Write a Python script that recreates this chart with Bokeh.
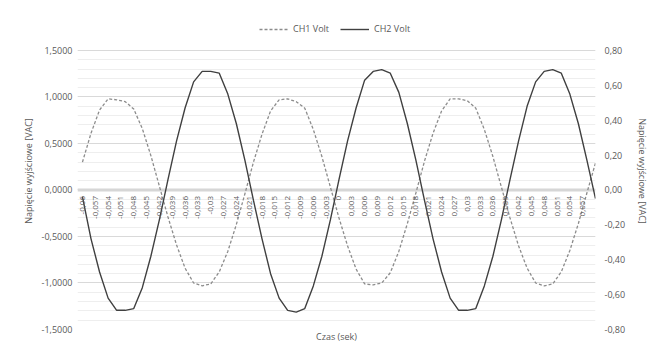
import math
from bokeh.plotting import figure
from bokeh.models import (Range1d, LinearAxis, FixedTicker, Span, Legend, LegendItem,
                          LabelSet, ColumnDataSource)
from bokeh.core.properties import value
from bokeh.embed import file_html
from bokeh.resources import INLINE

# ---- data ----
time_s = [-0.060, -0.058, -0.056, -0.054, -0.052, -0.050, -0.048, -0.046, -0.044, -0.042,
          -0.040, -0.038, -0.036, -0.034, -0.032, -0.030, -0.028, -0.026, -0.024, -0.022,
          -0.020, -0.018, -0.016, -0.014, -0.012, -0.010, -0.008, -0.006, -0.004, -0.002,
          0.000, 0.002, 0.004, 0.006, 0.008, 0.010, 0.012, 0.014, 0.016, 0.018,
          0.020, 0.022, 0.024, 0.026, 0.028, 0.030, 0.032, 0.034, 0.036, 0.038,
          0.040, 0.042, 0.044, 0.046, 0.048, 0.050, 0.052, 0.054, 0.056, 0.058, 0.060]

ch1_volt = [0.30, 0.61, 0.86, 0.98, 0.97, 0.95, 0.87, 0.66, 0.37, 0.04,
            -0.29, -0.59, -0.84, -1.00, -1.03, -1.01, -0.88, -0.66, -0.37, -0.04,
            0.30, 0.60, 0.85, 0.97, 0.98, 0.95, 0.88, 0.65, 0.36, 0.03,
            -0.30, -0.60, -0.85, -1.01, -1.02, -1.00, -0.89, -0.66, -0.36, -0.03,
            0.31, 0.61, 0.85, 0.98, 0.98, 0.96, 0.88, 0.65, 0.36, 0.03,
            -0.30, -0.60, -0.84, -1.00, -1.03, -1.01, -0.88, -0.65, -0.36, -0.03, 0.29]

ch2_volt = [-0.04, -0.28, -0.47, -0.62, -0.69, -0.69, -0.68, -0.56, -0.38, -0.17,
            0.06, 0.28, 0.47, 0.62, 0.68, 0.68, 0.67, 0.55, 0.38, 0.17,
            -0.06, -0.28, -0.48, -0.62, -0.69, -0.70, -0.68, -0.55, -0.38, -0.17,
            0.06, 0.28, 0.47, 0.63, 0.68, 0.69, 0.67, 0.56, 0.38, 0.17,
            -0.06, -0.28, -0.47, -0.62, -0.69, -0.69, -0.68, -0.55, -0.38, -0.17,
            0.06, 0.28, 0.48, 0.62, 0.68, 0.69, 0.67, 0.55, 0.38, 0.17, -0.05]

x_tick_values = [-0.060, -0.057, -0.054, -0.051, -0.048, -0.045, -0.042, -0.039, -0.036, -0.033,
                 -0.030, -0.027, -0.024, -0.021, -0.018, -0.015, -0.012, -0.009, -0.006, -0.003,
                 0.000, 0.003, 0.006, 0.009, 0.012, 0.015, 0.018, 0.021, 0.024, 0.027,
                 0.030, 0.033, 0.036, 0.039, 0.042, 0.045, 0.048, 0.051, 0.054, 0.057]
x_tick_labels = ["-0,06", "-0,057", "-0,054", "-0,051", "-0,048", "-0,045", "-0,042", "-0,039", "-0,036", "-0,033",
                 "-0,03", "-0,027", "-0,024", "-0,021", "-0,018", "-0,015", "-0,012", "-0,009", "-0,006", "-0,003",
                 "0", "0,003", "0,006", "0,009", "0,012", "0,015", "0,018", "0,021", "0,024", "0,027",
                 "0,03", "0,033", "0,036", "0,039", "0,042", "0,045", "0,048", "0,051", "0,054", "0,057"]

left_ticks = [-1.5, -1.0, -0.5, 0.0, 0.5, 1.0, 1.5]
left_tick_labels = ["-1,5000", "-1,0000", "-0,5000", "0,0000", "0,5000", "1,0000", "1,5000"]
left_minor_ticks = [-1.5, -1.4, -1.3, -1.2, -1.1, -1.0, -0.9, -0.8, -0.7, -0.6, -0.5, -0.4, -0.3, -0.2, -0.1,
                    0.0, 0.1, 0.2, 0.3, 0.4, 0.5, 0.6, 0.7, 0.8, 0.9, 1.0, 1.1, 1.2, 1.3, 1.4, 1.5]
right_ticks = [-0.8, -0.6, -0.4, -0.2, 0.0, 0.2, 0.4, 0.6, 0.8]
right_tick_labels = ["-0,80", "-0,60", "-0,40", "-0,20", "0,00", "0,20", "0,40", "0,60", "0,80"]

FONT = "Open Sans"
TXT = "#595959"

# plot frame extends slightly left of the first category (room for its label) and
# above the top gridline to hold the legend (same scales as the axes)
p = figure(width=652, height=352, output_backend="svg", toolbar_location=None,
           x_range=Range1d(-0.06116, 0.06), y_range=Range1d(-1.5, 1.9086),
           min_border_left=77, min_border_right=53, min_border_top=12, min_border_bottom=23)
p.extra_y_ranges = {"right": Range1d(-0.8, 1.0179)}
p.outline_line_color = None
p.background_fill_color = "white"
p.border_fill_color = "white"

p.xgrid.grid_line_color = None
p.ygrid.ticker = FixedTicker(ticks=left_ticks, minor_ticks=left_minor_ticks)
p.ygrid.grid_line_color = "#d9d9d9"
p.ygrid.minor_grid_line_color = "#eeeeee"

# left axis
ya = p.yaxis[0]
ya.ticker = FixedTicker(ticks=left_ticks, minor_ticks=left_minor_ticks)
ya.major_label_overrides = dict(zip(left_ticks, left_tick_labels))
ya.axis_label = "Napięcie wyjściowe [VAC]"

ra = LinearAxis(y_range_name="right", ticker=FixedTicker(ticks=right_ticks),
                major_label_overrides=dict(zip(right_ticks, right_tick_labels)),
                axis_label="Napięcie wyjściowe [VAC]")
p.add_layout(ra, "right")

for ax in [ya, ra]:
    ax.axis_line_color = None
    ax.major_tick_line_color = None
    ax.minor_tick_line_color = None
    ax.major_tick_out = 0
    ax.major_tick_in = 0
    ax.minor_tick_out = 0
    ax.major_label_text_font = FONT
    ax.major_label_text_font_size = "9px"
    ax.major_label_text_color = TXT
    ax.axis_label_text_font = FONT
    ax.axis_label_text_font_size = "9px"
    ax.axis_label_text_font_style = "normal"
    ax.axis_label_text_color = TXT
ya.major_label_standoff = 5
ya.axis_label_standoff = 4
ra.major_label_standoff = 9
ra.axis_label_standoff = 8

xa = p.xaxis[0]
xa.axis_line_color = None
xa.major_tick_line_color = None
xa.minor_tick_line_color = None
xa.major_tick_out = 0
xa.minor_tick_out = 0
xa.major_label_text_color = None
xa.major_label_text_font_size = "1px"
xa.major_label_standoff = 0
xa.axis_label = "Czas (sek)"
xa.axis_label_text_font = FONT
xa.axis_label_text_font_size = "9px"
xa.axis_label_text_font_style = "normal"
xa.axis_label_text_color = TXT
xa.axis_label_standoff = 0

# category axis band at zero
zero_line = Span(location=0, dimension="width", line_color="#d6d6d6", line_width=3, level="underlay")
p.add_layout(zero_line)

r1 = p.line(time_s, ch1_volt, line_color="#8c8c8c", line_width=1.3, line_dash="3 2")
r2 = p.line(time_s, ch2_volt, y_range_name="right", line_color="#404040", line_width=1.4)

tick_src = ColumnDataSource(dict(x=x_tick_values, y=[0] * len(x_tick_values), text=x_tick_labels))
tick_labels = LabelSet(x="x", y="y", text="text", source=tick_src,
                       angle=math.pi / 2, text_align="right", text_baseline="middle", y_offset=-6,
                       text_font=value(FONT), text_font_size="8px", text_color=TXT)
p.add_layout(tick_labels)

legend = Legend(items=[LegendItem(label="CH1 Volt", renderers=[r1]),
                       LegendItem(label="CH2 Volt", renderers=[r2])],
                orientation="horizontal", location=(182, 294),
                glyph_width=29, glyph_height=10, label_standoff=5, spacing=11,
                padding=2, margin=0, border_line_color=None, background_fill_alpha=0,
                label_text_font=FONT, label_text_font_size="9px", label_text_color=TXT)
p.add_layout(legend)

open("out.html", "w").write(file_html(p, INLINE))
